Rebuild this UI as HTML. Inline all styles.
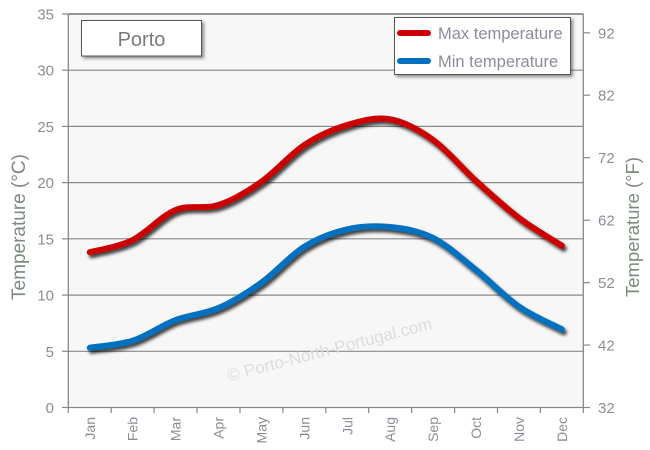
<!DOCTYPE html>
<html><head><meta charset="utf-8"><style>
html,body{margin:0;padding:0;background:#fff;}
svg{display:block;font-family:"Liberation Sans",Arial,sans-serif;}
</style></head><body>
<svg width="650" height="450" viewBox="0 0 650 450" xmlns="http://www.w3.org/2000/svg">
<defs>
<filter id="sh" x="-10%" y="-10%" width="120%" height="130%">
<feDropShadow dx="2" dy="3" stdDeviation="1.6" flood-color="#000" flood-opacity="0.75"/>
</filter>
<filter id="bs" x="-10%" y="-20%" width="130%" height="150%">
<feDropShadow dx="2" dy="2" stdDeviation="1.5" flood-color="#000" flood-opacity="0.45"/>
</filter>
</defs>
<rect x="68.3" y="14" width="515" height="393.5" fill="#f7f7f7"/>
<g stroke="#8a8a8a" stroke-width="1.2">
<line x1="68.3" y1="70.2" x2="583.3" y2="70.2"/>
<line x1="68.3" y1="126.4" x2="583.3" y2="126.4"/>
<line x1="68.3" y1="182.6" x2="583.3" y2="182.6"/>
<line x1="68.3" y1="238.8" x2="583.3" y2="238.8"/>
<line x1="68.3" y1="295.1" x2="583.3" y2="295.1"/>
<line x1="68.3" y1="351.3" x2="583.3" y2="351.3"/>
</g>
<line x1="68.3" y1="14" x2="583.3" y2="14" stroke="#555" stroke-width="1.3"/>
<line x1="68.3" y1="407.5" x2="583.3" y2="407.5" stroke="#888" stroke-width="1.3"/>
<line x1="68.3" y1="14" x2="68.3" y2="407.5" stroke="#888" stroke-width="1.3"/>
<line x1="583.3" y1="14" x2="583.3" y2="407.5" stroke="#888" stroke-width="1.3"/>
<g stroke="#888" stroke-width="1.2">
<line x1="62" y1="14" x2="68" y2="14"/><line x1="62" y1="70.2" x2="68" y2="70.2"/><line x1="62" y1="126.4" x2="68" y2="126.4"/><line x1="62" y1="182.6" x2="68" y2="182.6"/><line x1="62" y1="238.8" x2="68" y2="238.8"/><line x1="62" y1="295.1" x2="68" y2="295.1"/><line x1="62" y1="351.3" x2="68" y2="351.3"/><line x1="62" y1="407.5" x2="68" y2="407.5"/>
<line x1="583" y1="32.8" x2="590" y2="32.8"/><line x1="583" y1="95.2" x2="590" y2="95.2"/><line x1="583" y1="157.7" x2="590" y2="157.7"/><line x1="583" y1="220.2" x2="590" y2="220.2"/><line x1="583" y1="282.6" x2="590" y2="282.6"/><line x1="583" y1="345.1" x2="590" y2="345.1"/><line x1="583" y1="407.5" x2="590" y2="407.5"/>
<line x1="68.3" y1="407" x2="68.3" y2="413"/><line x1="111.2" y1="407" x2="111.2" y2="413"/><line x1="154.1" y1="407" x2="154.1" y2="413"/><line x1="197" y1="407" x2="197" y2="413"/><line x1="240" y1="407" x2="240" y2="413"/><line x1="282.9" y1="407" x2="282.9" y2="413"/><line x1="325.8" y1="407" x2="325.8" y2="413"/><line x1="368.7" y1="407" x2="368.7" y2="413"/><line x1="411.6" y1="407" x2="411.6" y2="413"/><line x1="454.6" y1="407" x2="454.6" y2="413"/><line x1="497.5" y1="407" x2="497.5" y2="413"/><line x1="540.4" y1="407" x2="540.4" y2="413"/><line x1="583.3" y1="407" x2="583.3" y2="413"/>
</g>
<g fill="#8c8c96" font-size="15" text-anchor="end">
<text x="54" y="19.5">35</text><text x="54" y="75.7">30</text><text x="54" y="131.9">25</text><text x="54" y="188.1">20</text><text x="54" y="244.3">15</text><text x="54" y="300.6">10</text><text x="54" y="356.8">5</text><text x="54" y="413">0</text>
</g>
<g fill="#8c8c96" font-size="15" text-anchor="start">
<text x="598" y="38.3">92</text><text x="598" y="100.7">82</text><text x="598" y="163.2">72</text><text x="598" y="225.7">62</text><text x="598" y="288.1">52</text><text x="598" y="350.6">42</text><text x="598" y="413">32</text>
</g>
<g fill="#8c8c96" font-size="14" text-anchor="end">
<text transform="translate(94.8,417) rotate(-90)">Jan</text>
<text transform="translate(137.7,417) rotate(-90)">Feb</text>
<text transform="translate(180.6,417) rotate(-90)">Mar</text>
<text transform="translate(223.5,417) rotate(-90)">Apr</text>
<text transform="translate(266.4,417) rotate(-90)">May</text>
<text transform="translate(309.4,417) rotate(-90)">Jun</text>
<text transform="translate(352.3,417) rotate(-90)">Jul</text>
<text transform="translate(395.2,417) rotate(-90)">Aug</text>
<text transform="translate(438.1,417) rotate(-90)">Sep</text>
<text transform="translate(481,417) rotate(-90)">Oct</text>
<text transform="translate(524,417) rotate(-90)">Nov</text>
<text transform="translate(566.9,417) rotate(-90)">Dec</text>
</g>
<text transform="translate(25,227) rotate(-90)" font-size="19" fill="#7d8a7d" text-anchor="middle">Temperature (°C)</text>
<text transform="translate(639,227) rotate(-90)" font-size="18.5" fill="#7d8a7d" text-anchor="middle">Temperature (°F)</text>
<text transform="translate(331,355) rotate(-14.5)" font-size="17" fill="#dcdcdc" text-anchor="middle">© Porto-North-Portugal.com</text>
<g fill="none" stroke-width="6" stroke-linecap="round" stroke-linejoin="round" filter="url(#sh)">
<path stroke="#cc0000" d="M89.8,252.3 C96.9,250.3 118.4,247.1 132.7,240 C147,232.9 161.3,215.8 175.6,210 C189.9,204.2 204.2,209.7 218.5,205 C232.8,200.3 247.1,191.7 261.4,181.7 C275.7,171.7 290.1,154.5 304.4,145 C318.7,135.5 333,129.3 347.3,125 C361.6,120.7 375.9,116.8 390.2,119.3 C404.5,121.8 418.8,129.7 433.1,140 C447.4,150.3 461.7,168 476,181 C490.3,194 504.7,207.2 519,218 C533.3,228.8 554.8,241.1 561.9,245.7"/>
<path stroke="#0070c0" d="M89.8,347.7 C96.9,346.5 118.4,345.3 132.7,340.7 C147,336.1 161.3,325.5 175.6,320 C189.9,314.6 204.2,314.2 218.5,308 C232.8,301.8 247.1,292.9 261.4,282.7 C275.7,272.5 290.1,255.6 304.4,246.7 C318.7,237.8 333,232.6 347.3,229.3 C361.6,226 375.9,225.6 390.2,227 C404.5,228.5 418.8,230.8 433.1,238 C447.4,245.2 461.7,258.6 476,270 C490.3,281.5 504.7,296.8 519,306.7 C533.3,316.6 554.8,325.5 561.9,329.3"/>
</g>
<rect x="81.5" y="20.5" width="120" height="35.5" fill="#fff" stroke="#555" stroke-width="1" filter="url(#bs)"/>
<text x="141.5" y="46" font-size="20" fill="#7a7a7a" text-anchor="middle">Porto</text>
<rect x="394.5" y="17.5" width="176" height="57" fill="#fff" stroke="#555" stroke-width="1" filter="url(#bs)"/>
<line x1="400" y1="33" x2="428" y2="33" stroke="#cc0000" stroke-width="6" stroke-linecap="round"/>
<line x1="400" y1="61" x2="428" y2="61" stroke="#0070c0" stroke-width="6" stroke-linecap="round"/>
<text x="438" y="39" font-size="16.5" fill="#8c8c9c">Max temperature</text>
<text x="438" y="67" font-size="16.5" fill="#8c8c9c">Min temperature</text>
</svg>
</body></html>
